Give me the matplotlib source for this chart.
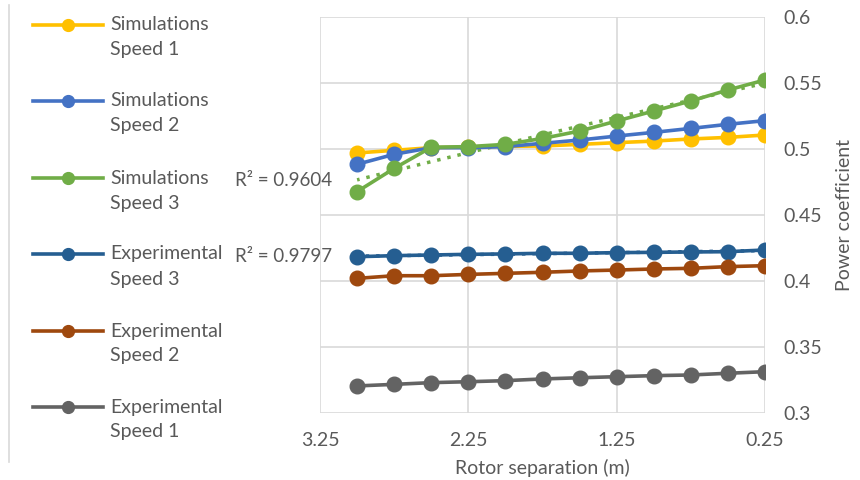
import numpy as np
import matplotlib
matplotlib.use("Agg")
import matplotlib.pyplot as plt
from matplotlib.lines import Line2D

plt.rcParams['font.family'] = ['Lato', 'DejaVu Sans']

separation = [3.0, 2.75, 2.5, 2.25, 2.0, 1.75, 1.5, 1.25, 1.0, 0.75, 0.5, 0.25]
sim_speed1 = [0.497, 0.499, 0.501, 0.5015, 0.502, 0.5023, 0.5035, 0.5048, 0.506, 0.5076, 0.5088, 0.5106]
sim_speed2 = [0.4884, 0.496, 0.501, 0.501, 0.5018, 0.5043, 0.5068, 0.5098, 0.5126, 0.5156, 0.5187, 0.5215]
sim_speed3 = [0.4677, 0.4853, 0.5013, 0.5018, 0.5035, 0.508, 0.5136, 0.5212, 0.5288, 0.5364, 0.5447, 0.5523]
exp_speed3 = [0.4184, 0.4192, 0.4197, 0.4202, 0.4205, 0.421, 0.421, 0.4215, 0.4217, 0.422, 0.4222, 0.4235]
exp_speed2 = [0.402, 0.404, 0.404, 0.405, 0.4058, 0.4066, 0.4076, 0.4083, 0.4091, 0.4096, 0.4109, 0.4116]
exp_speed1 = [0.3205, 0.3217, 0.323, 0.3237, 0.3245, 0.3258, 0.3267, 0.3275, 0.3283, 0.3288, 0.3301, 0.3313]
x_ticks = [3.25, 2.25, 1.25, 0.25]
y_ticks = [0.3, 0.35, 0.4, 0.45, 0.5, 0.55, 0.6]
r2_labels = ["R² = 0.9604", "R² = 0.9797"]

series = [
    ("Simulations\nSpeed 1", sim_speed1, "#FFC000"),
    ("Simulations\nSpeed 2", sim_speed2, "#4472C4"),
    ("Simulations\nSpeed 3", sim_speed3, "#70AD47"),
    ("Experimental\nSpeed 3", exp_speed3, "#255E91"),
    ("Experimental\nSpeed 2", exp_speed2, "#9E480E"),
    ("Experimental\nSpeed 1", exp_speed1, "#636363"),
]

W, H = 860, 480
fig = plt.figure(figsize=(8.6, 4.8), dpi=100)
ax = fig.add_axes([320/W, 1-413/H, 445/W, 396/H])

x = np.array(separation)
# trendlines
c3 = np.polyfit(x, sim_speed3, 2)
xs = np.linspace(x.min(), x.max(), 100)
ax.plot(xs, np.polyval(c3, xs), ls=(0, (1, 2)), color="#70AD47", lw=2.5, zorder=2)
c_e3 = np.polyfit(x, exp_speed3, 1)
ax.plot(xs, np.polyval(c_e3, xs), ls=(0, (1, 2)), color="#255E91", lw=2.5, zorder=2)

for label, vals, col in series:
    ax.plot(separation, vals, color=col, lw=2.6, marker='o', markersize=10.5, zorder=3)

ax.set_xlim(3.25, 0.25)
ax.set_ylim(0.3, 0.6)
ax.set_xticks(x_ticks)
ax.set_xticklabels([f"{t:g}" for t in x_ticks])
ax.set_yticks(y_ticks)
ax.set_yticklabels([f"{t:g}" for t in y_ticks])
ax.yaxis.tick_right()
ax.yaxis.set_label_position("right")
ax.tick_params(length=0, labelsize=14, labelcolor="#595959", pad=13)
ax.tick_params(axis='x', pad=14)
ax.grid(True, color="#D9D9D9", lw=1.2)
ax.set_axisbelow(True)
for s in ax.spines.values():
    s.set_visible(False)
ax.set_xlabel("Rotor separation (m)", fontsize=14, color="#595959", labelpad=7)
ax.set_ylabel("Power coefficient", fontsize=14, color="#595959", labelpad=10)

fig.text(235/W, 1-181/H, r2_labels[0], ha='left', va='center', fontsize=13.5, color="#595959")
fig.text(235/W, 1-257/H, r2_labels[1], ha='left', va='center', fontsize=13.5, color="#595959")

# legend drawn manually
leg_y = [25, 101, 178, 254, 331, 407]
for (label, vals, col), yy in zip(series, leg_y):
    fy = 1 - yy/H
    fig.add_artist(Line2D([33/W, 103/W], [fy, fy], color=col, lw=2.6))
    fig.add_artist(Line2D([68/W], [fy], color=col, marker='o', markersize=8.5, lw=0))
    l1, l2 = label.split("\n")
    fig.text(110/W, fy, l1, ha='left', va='center', fontsize=14, color="#595959")
    fig.text(110/W, 1-(yy+25)/H, l2, ha='left', va='center', fontsize=14, color="#595959")

fig.add_artist(Line2D([9/W, 9/W], [1-5/H, 1-462/H], color="#D9D9D9", lw=1.2))

fig.savefig("out.png", dpi=100)
